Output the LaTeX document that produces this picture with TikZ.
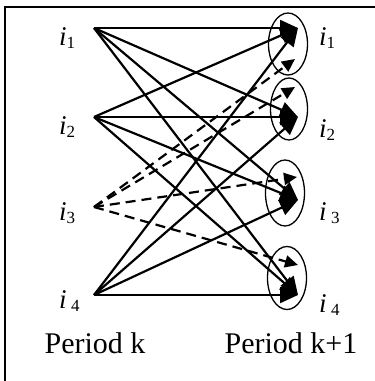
\documentclass[tikz,border=0pt]{standalone}
\usepackage{fontspec}
\setmainfont{Liberation Serif}
\usetikzlibrary{arrows.meta, positioning, shapes.geometric}

\newcommand{\ilab}[2]{\fontsize{27}{27}\selectfont\textit{i}#1\raisebox{-3pt}{\fontsize{17}{17}\selectfont #2}}

\begin{document}
\begin{tikzpicture}[x=1pt, y=-1pt,
  lab/.style={anchor=base west, inner sep=0pt},
  period/.style={anchor=base, inner sep=0pt, font=\fontsize{30}{30}\selectfont},
  state/.style={draw, ellipse, line width=1.3pt, inner sep=0pt},
  flow/.style={line width=2.2pt, -{Triangle[length=18pt, width=16pt]}},
  dflow/.style={line width=2.2pt, dash pattern=on 10pt off 6pt,
                -{Triangle[length=13pt, width=12pt]}}
]
\useasboundingbox (0,0) rectangle (375,381);
\draw[line width=1.8pt] (5,381) -- (5,7) -- (375,7);

% period k
\coordinate (l1) at (94,28);
\coordinate (l2) at (94,117);
\coordinate (l3) at (94,207);
\coordinate (l4) at (94,295);

% period k+1
\node[state, minimum width=39pt, minimum height=62pt] (e1) at (288,44) {};
\node[state, minimum width=37pt, minimum height=62pt] (e2) at (289,109) {};
\node[state, minimum width=39pt, minimum height=66pt] (e3) at (285,193) {};
\node[state, minimum width=39pt, minimum height=63pt] (e4) at (287,278) {};

\coordinate (s1) at (298,28);
\coordinate (s2) at (298,117);
\coordinate (s3) at (298,200);
\coordinate (s4) at (298,295);
\coordinate (d1) at (295,59);
\coordinate (d2) at (295,87);
\coordinate (d3) at (297,177);
\coordinate (d4) at (298,265);

\foreach \a in {1,2,4}
  \foreach \b in {1,...,4}
    \draw[flow] (l\a) -- (s\b);
\foreach \b in {1,...,4}
  \draw[dflow] (l3) -- (d\b);

% labels
\node[lab] (k1) at (59,45) {\ilab{}{1}};
\node[lab] (k2) at (59,134) {\ilab{}{2}};
\node[lab] (k3) at (59,220) {\ilab{}{3}};
\node[lab] (k4) at (59,308) {\ilab{\,}{4}};
\node[lab] (n1) at (319,45) {\ilab{}{1}};
\node[lab] (n2) at (319,137) {\ilab{}{2}};
\node[lab] (n3) at (319,220) {\ilab{\,}{3}};
\node[lab] (n4) at (319,312) {\ilab{\,}{4}};

\node[period] (pk) at (95,353) {Period k};
\node[period] (pk1) at (291,353) {Period k+1};
\end{tikzpicture}
\end{document}
